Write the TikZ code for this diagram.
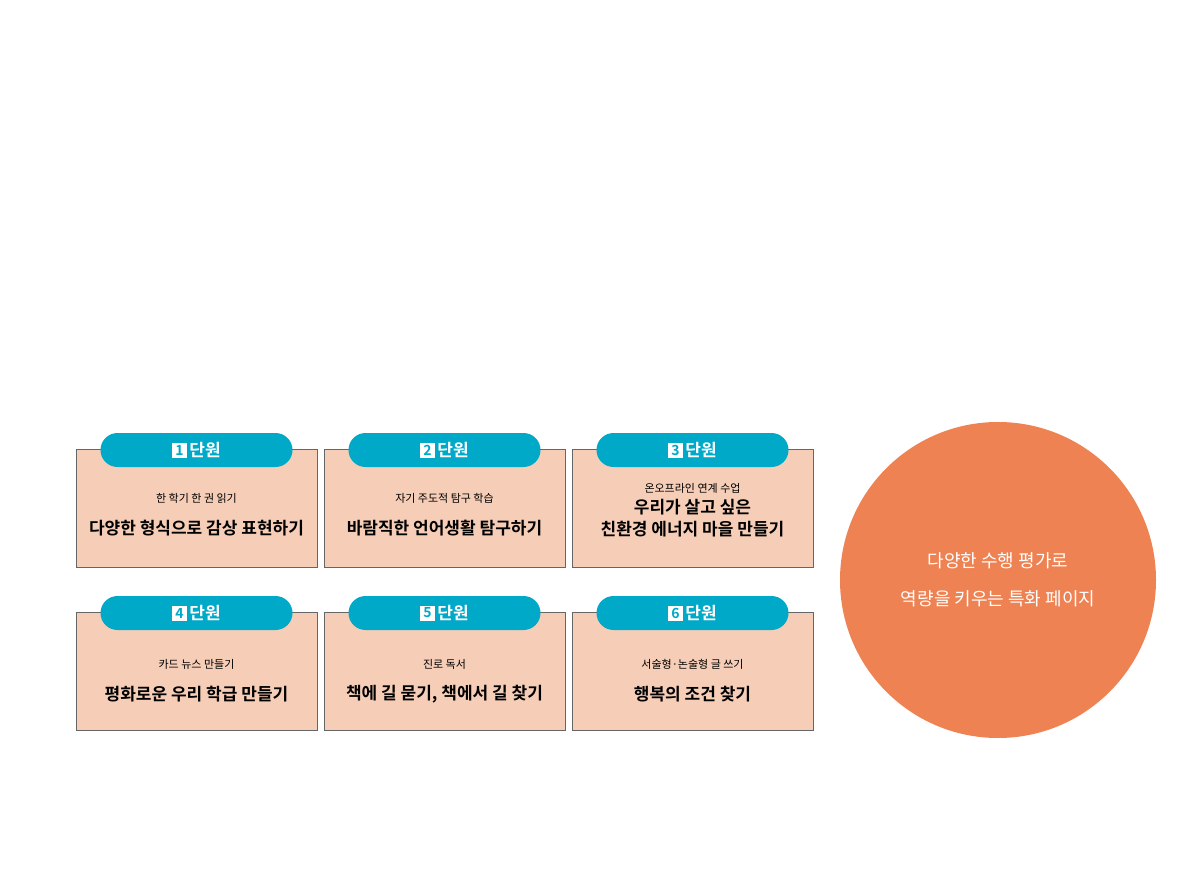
\documentclass[tikz,border=0pt]{standalone}
\usepackage{fontspec}
\newfontfamily\kr{Noto Sans CJK KR}
\newfontfamily\krb{Noto Sans CJK KR Bold}
\definecolor{boxfill}{HTML}{F6CDB6}
\definecolor{teal}{HTML}{00A9C8}
\definecolor{circ}{HTML}{EE8252}
\begin{document}
\begin{tikzpicture}[x=1pt,y=-1pt,
  unitbox/.style={draw=black!60,fill=boxfill,line width=0.8pt,minimum width=241pt,minimum height=118pt,inner sep=0},
  pill/.style={fill=teal,rounded corners=17pt,minimum width=192pt,minimum height=34pt,inner sep=0,text=white,font=\krb\fontsize{17}{17}\selectfont},
  numsq/.style={fill=white,text=teal,inner sep=1pt,minimum size=15pt,font=\krb\fontsize{14}{14}\selectfont},
  sub/.style={font=\kr\fontsize{11}{11}\selectfont},
  title/.style={font=\krb\fontsize{17}{22}\selectfont,align=center}]
\useasboundingbox (0,0) rectangle (1200,880);
\newcommand\unitcell[6]{%
  \node[unitbox] (b#1) at (#2,#3) {};
  \node[pill] (p#1) at (#2,#3-59+1) {\hspace{17pt}단원};
  \node[numsq] (n#1) at (#2-17,#3-58) {#1};
  \node[sub] (s#1) at (#2,#3-#6) {#4};
  \node[title] (t#1) at (#2,#3-#6+30) {#5};}
\unitcell{1}{196.5}{508}{한 학기 한 권 읽기}{다양한 형식으로 감상 표현하기}{10}
\unitcell{2}{444.5}{508}{자기 주도적 탐구 학습}{바람직한 언어생활 탐구하기}{10}
\unitcell{3}{692.5}{508}{온오프라인 연계 수업}{우리가 살고 싶은\\친환경 에너지 마을 만들기}{20}
\unitcell{4}{196.5}{671}{카드 뉴스 만들기}{평화로운 우리 학급 만들기}{7}
\unitcell{5}{444.5}{671}{진로 독서}{책에 길 묻기, 책에서 길 찾기}{7}
\unitcell{6}{692.5}{671}{서술형·논술형 글 쓰기}{행복의 조건 찾기}{7}
\node[circle,fill=circ,minimum size=316pt,inner sep=0] (c) at (998,580) {};
\node[text=white,font=\kr\fontsize{18}{38}\selectfont,align=center] (ct) at (c) {다양한 수행 평가로\\역량을 키우는 특화 페이지};
\end{tikzpicture}
\end{document}
